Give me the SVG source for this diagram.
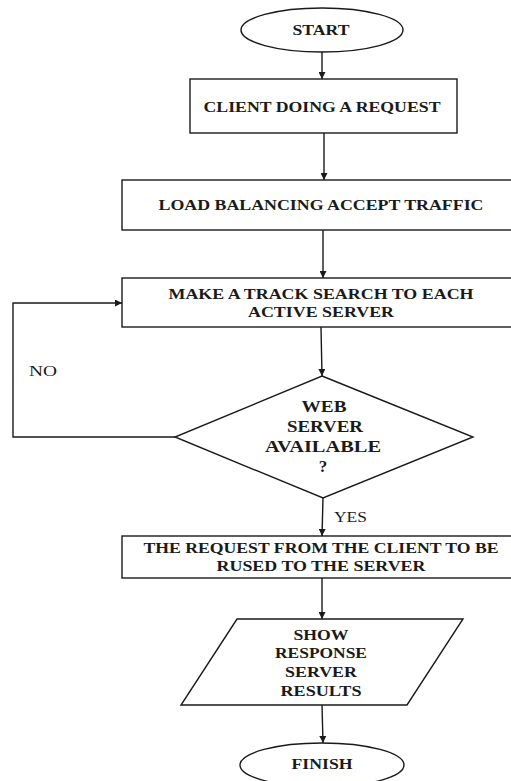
<svg xmlns="http://www.w3.org/2000/svg" width="511" height="781" viewBox="0 0 511 781">
<style>
.s{fill:#fff;stroke:#1a1a1a;stroke-width:1.4}
.t{font-family:"Liberation Serif","Times New Roman",serif;font-weight:bold;font-size:15.5px;fill:#1a1a1a;text-anchor:middle}
.d{font-size:17px}
.l{font-family:"Liberation Serif","Times New Roman",serif;font-size:15.5px;fill:#1a1a1a}
.c{fill:none;stroke:#1a1a1a;stroke-width:1.4}
</style>
<defs>
<marker id="a" viewBox="0 0 10 10" refX="10" refY="5" markerWidth="7" markerHeight="7" markerUnits="userSpaceOnUse" orient="auto">
<path d="M0,0L10,5L0,10z" fill="#1a1a1a"/>
</marker>
</defs>
<rect width="511" height="781" fill="#fff"/>
<g id="connectors">
<line class="c" x1="322" y1="52" x2="322" y2="79" marker-end="url(#a)"/>
<line class="c" x1="324" y1="133" x2="324" y2="180" marker-end="url(#a)"/>
<line class="c" x1="323" y1="230" x2="323" y2="278" marker-end="url(#a)"/>
<line class="c" x1="321" y1="327" x2="322" y2="376" marker-end="url(#a)"/>
<polyline class="c" points="175,437 13,437 13,303 122,303" marker-end="url(#a)"/>
<line class="c" x1="323" y1="498" x2="322" y2="536" marker-end="url(#a)"/>
<line class="c" x1="322" y1="578" x2="322" y2="619" marker-end="url(#a)"/>
<line class="c" x1="322" y1="705" x2="323" y2="743" marker-end="url(#a)"/>
<text class="l" x="29" y="376" textLength="28" lengthAdjust="spacingAndGlyphs">NO</text>
<text class="l" x="334" y="522" textLength="33" lengthAdjust="spacingAndGlyphs">YES</text>
</g>
<g id="start">
<ellipse class="s" cx="322" cy="30" rx="81" ry="22"/>
<text class="t" x="321" y="35" textLength="57" lengthAdjust="spacingAndGlyphs">START</text>
</g>
<g id="client">
<rect class="s" x="190" y="79" width="267" height="54"/>
<text class="t" x="322" y="112" textLength="237" lengthAdjust="spacingAndGlyphs">CLIENT DOING A REQUEST</text>
</g>
<g id="loadbalancing">
<rect class="s" x="122" y="180" width="398" height="50"/>
<text class="t" x="321" y="210" textLength="325" lengthAdjust="spacingAndGlyphs">LOAD BALANCING ACCEPT TRAFFIC</text>
</g>
<g id="tracksearch">
<rect class="s" x="122" y="278" width="398" height="49"/>
<text class="t" x="321" y="299" textLength="305" lengthAdjust="spacingAndGlyphs">MAKE A TRACK SEARCH TO EACH</text>
<text class="t" x="321" y="317" textLength="146" lengthAdjust="spacingAndGlyphs">ACTIVE SERVER</text>
</g>
<g id="decision">
<polygon class="s" points="322,376 473,437 323,498 175,437"/>
<text class="t d" x="324" y="412" textLength="45" lengthAdjust="spacingAndGlyphs">WEB</text>
<text class="t d" x="325" y="432" textLength="76" lengthAdjust="spacingAndGlyphs">SERVER</text>
<text class="t d" x="323" y="452" textLength="116" lengthAdjust="spacingAndGlyphs">AVAILABLE</text>
<text class="t d" x="323" y="472">?</text>
</g>
<g id="forward">
<rect class="s" x="122" y="536" width="398" height="42"/>
<text class="t" x="321" y="553" textLength="355" lengthAdjust="spacingAndGlyphs">THE REQUEST FROM THE CLIENT TO BE</text>
<text class="t" x="321" y="571" textLength="209" lengthAdjust="spacingAndGlyphs">RUSED TO THE SERVER</text>
</g>
<g id="show">
<polygon class="s" points="237,619 463,619 407,705 181,705"/>
<text class="t" x="321" y="640" textLength="55" lengthAdjust="spacingAndGlyphs">SHOW</text>
<text class="t" x="321" y="658" textLength="92" lengthAdjust="spacingAndGlyphs">RESPONSE</text>
<text class="t" x="321" y="677" textLength="72" lengthAdjust="spacingAndGlyphs">SERVER</text>
<text class="t" x="321" y="696" textLength="81" lengthAdjust="spacingAndGlyphs">RESULTS</text>
</g>
<g id="finish">
<ellipse class="s" cx="322" cy="765" rx="82" ry="22"/>
<text class="t" x="322" y="769" textLength="61" lengthAdjust="spacingAndGlyphs">FINISH</text>
</g>
</svg>
